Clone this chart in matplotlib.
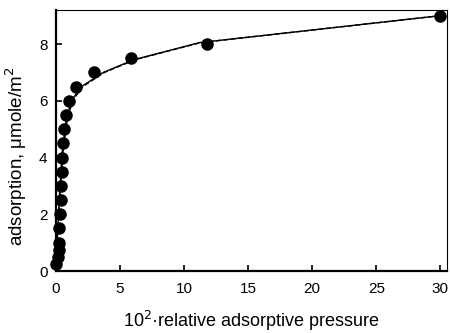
import matplotlib
matplotlib.use("Agg")
import matplotlib.pyplot as plt

plt.rcParams["font.family"] = ["Liberation Sans", "DejaVu Sans"]

# measured points
p_meas = [0.05, 0.18, 0.23, 0.25, 0.27, 0.36, 0.38, 0.41, 0.46, 0.51, 0.56, 0.64,
          0.77, 1.0, 1.6, 3.0, 5.9, 11.8, 29.95]
a_meas = [0.25, 0.5, 0.75, 1.0, 1.5, 2.0, 2.5, 3.0, 3.5, 4.0, 4.5, 5.0,
          5.5, 6.0, 6.5, 7.0, 7.5, 8.0, 9.0]

# model fits (solid and dashed)
p_fit1 = [0.0, 0.1, 0.3, 0.5, 0.8, 1.2, 2.0, 3.7, 6.1, 11.2, 30.0]
a_fit1 = [0.0, 1.0, 2.8, 4.2, 5.3, 6.0, 6.5, 7.0, 7.45, 8.05, 9.0]
p_fit2 = [0.0, 0.12, 0.34, 0.56, 0.88, 1.3, 2.1, 3.8, 6.2, 11.3, 30.0]
a_fit2 = [0.0, 1.0, 2.8, 4.2, 5.3, 6.0, 6.5, 7.0, 7.45, 8.05, 9.0]

fig = plt.figure(figsize=(4.5, 3.33), dpi=100)
ax = fig.add_axes([0.124, 0.186, 0.869, 0.784])

ax.plot(p_fit2, a_fit2, color="black", lw=1.0, ls="--")
ax.plot(p_fit1, a_fit1, color="black", lw=1.0)
ax.plot(p_meas, a_meas, "o", color="black", ms=8, zorder=3, clip_on=False)

ax.set_xlim(0, 30.5)
ax.set_ylim(0, 9.2)
ax.set_xticks(range(0, 31, 5))
ax.set_yticks(range(0, 9, 2))
ax.tick_params(direction="in", length=4, width=1.2, labelsize=11)
ax.tick_params(axis="x", pad=8)
ax.tick_params(axis="y", pad=6)
for s in ("left", "bottom"):
    ax.spines[s].set_linewidth(1.6)
for s in ("top", "right"):
    ax.spines[s].set_linewidth(0.8)

ax.set_xlabel("10$^{2}$·relative adsorptive pressure", fontsize=13, labelpad=9)
ax.set_ylabel("adsorption, μmole/m$^{2}$", fontsize=13.5)
ax.yaxis.set_label_coords(-0.068, 0.44)

fig.savefig("out.png", dpi=100)
